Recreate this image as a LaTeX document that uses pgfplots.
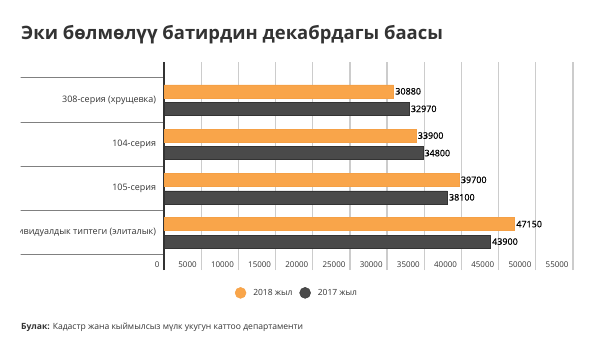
\documentclass[border=0pt]{standalone}
\usepackage{fontspec}
\setmainfont{Open Sans}
\newfontfamily\valfont[FakeBold=0.6]{Open Sans}
\usepackage{pgfplots}
\pgfplotsset{compat=1.18}
\definecolor{orng}{HTML}{F9A54A}
\definecolor{orngb}{HTML}{F5A045}
\definecolor{drk}{HTML}{4A4A4A}
\definecolor{drkb}{HTML}{333333}
\definecolor{txt}{HTML}{333333}
\definecolor{grd}{HTML}{CCCCCC}
\begin{document}
\begin{tikzpicture}[x=1bp,y=1bp]
\path[use as bounding box] (0,0) rectangle (600,354);
\node[anchor=base west, inner sep=0, font=\fontsize{18.5}{20}\selectfont\bfseries, text=txt] at (21,315) {Эки бөлмөлүү батирдин декабрдагы баасы};
\begin{scope}
\clip (20.5,0) rectangle (600,354);
\begin{axis}[
  at={(164bp,84bp)}, anchor=south west,
  width=409bp, height=208bp, scale only axis,
  xbar, bar width=13bp,
  xmin=0, xmax=55000, ymin=-0.84, ymax=3.86,
  axis line style={draw=none},
  xtick={0,5000,...,55000},
  scaled x ticks=false,
  /pgf/number format/assume math mode=true,
  xticklabel={\pgfmathprintnumber[fixed,use comma=false,1000 sep={}]{\tick}},
  xticklabel style={anchor=east, yshift=5bp, xshift=-1bp, font=\fontsize{8}{8}\selectfont, text=txt},
  xmajorgrids, grid style={grd, line width=1.3bp},
  major tick length=0,
  extra x ticks={0}, extra x tick labels={},
  extra x tick style={grid style={drkb, line width=1.2bp}},
  ytick pos=left, xtick pos=bottom,
  ytick={0,1,2,3},
  yticklabels={Индивидуалдык типтеги (элиталык),105-серия,104-серия,308-серия (хрущевка)},
  yticklabel style={font=\fontsize{9}{9}\selectfont, text=txt, xshift=-4.5bp},
  minor ytick={-0.5,0.5,1.5,2.5,3.5},
  minor tick length=144bp, tick align=outside,
  minor tick style={gray, line width=1bp},
  nodes near coords,
  nodes near coords style={anchor=west, font=\fontsize{9}{9}\selectfont\valfont, text=black, inner sep=1.5bp},
  every node near coord/.append style={/pgf/number format/.cd, fixed, 1000 sep={}},
  legend columns=2,
  legend style={at={(0.325,-0.11)}, anchor=center, draw=none, fill=none, font=\fontsize{8.5}{9}\selectfont, text=txt, column sep=5bp},
  legend image code/.code={\fill[#1] (3bp,0bp) circle (5.5bp);},
]
\addplot[fill=orng, draw=orngb, bar shift=8.75bp] coordinates {(30880,3) (33900,2) (39700,1) (47150,0)};
\addlegendentry{2018 жыл}
\addplot[fill=drk, draw=drkb, bar shift=-8.75bp] coordinates {(32970,3) (34800,2) (38100,1) (43900,0)};
\addlegendentry{2017 жыл}
\end{axis}
\end{scope}
\node[anchor=base west, inner sep=0, font=\fontsize{8.6}{9}\selectfont, text=txt] at (21,25) {\textbf{Булак:} Кадастр жана кыймылсыз мүлк укугун каттоо департаменти};
\end{tikzpicture}
\end{document}
